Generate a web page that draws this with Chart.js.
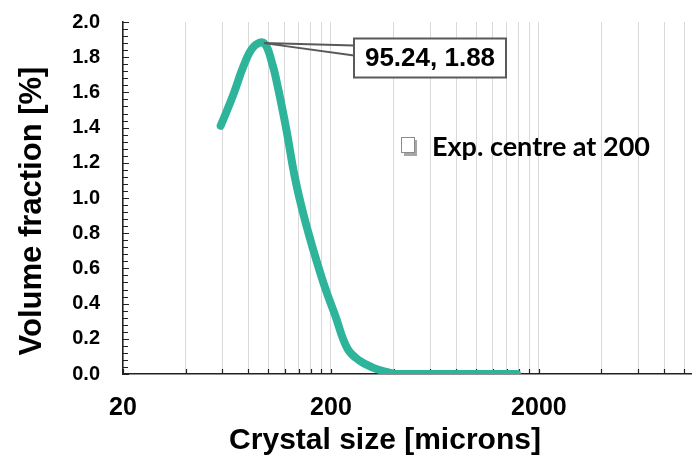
<!DOCTYPE html>
<html>
<head>
<meta charset="utf-8">
<script src="https://cdn.jsdelivr.net/npm/chart.js@4"></script>
<style>
html, body { margin: 0; padding: 0; background: #fff; }
#wrap { position: relative; width: 692px; height: 462px; }
</style>
</head>
<body>
<div id="wrap"><canvas id="psdChart" width="692" height="462"></canvas></div>
<script>
// crystal size [microns] and volume fraction [%]
var sizes   = [59, 68, 76, 85, 95.24, 104, 112, 122, 134, 148, 165, 185, 210, 240, 275, 320, 370, 410, 500, 650, 850, 1100, 1400, 1570];
var volFrac = [1.41, 1.59, 1.75, 1.86, 1.88, 1.77, 1.61, 1.39, 1.12, 0.90, 0.70, 0.51, 0.33, 0.145, 0.075, 0.035, 0.012, 0, 0, 0, 0, 0, 0, 0];
var seriesLabel = 'Exp. centre at 200';
var peak = { x: 95.24, y: 1.88 };

// x gridlines / tick marks (log axis, base 20) and the ones that get a label
var xGridTicks = [20, 40, 60, 80, 100, 120, 140, 160, 180, 200, 400, 600, 800, 1000, 1200, 1400, 1600, 1800, 2000, 4000, 6000, 8000, 10000];
var xTickLabels = [20, 200, 2000];

var lineColor = '#2EB49A';
var boldArial = 'bold {s}px "Liberation Sans", Arial, sans-serif';
function f(s) { return boldArial.replace('{s}', s); }

var points = sizes.map(function (s, i) { return { x: s, y: volFrac[i] }; });

var excelDecor = {
  id: 'excelDecor',
  beforeDatasetsDraw: function (chart) {
    var ctx = chart.ctx, xs = chart.scales.x, ys = chart.scales.y, a = chart.chartArea;
    ctx.save();
    ctx.strokeStyle = '#222';
    ctx.lineWidth = 1.2;
    ctx.beginPath();
    xGridTicks.forEach(function (v) {
      var px = Math.round(xs.getPixelForValue(v)) + 0.5;
      ctx.moveTo(px, a.bottom);
      ctx.lineTo(px, a.bottom - 5);
    });
    for (var k = 0; k <= 50; k++) {
      var py = Math.round(ys.getPixelForValue(k * 0.04)) + 0.5;
      var major = k % 5 === 0;
      ctx.moveTo(a.left - (major ? 1 : 0), py);
      ctx.lineTo(a.left + (major ? 6 : 5), py);
    }
    ctx.stroke();
    ctx.restore();
  },
  afterDatasetsDraw: function (chart) {
    var ctx = chart.ctx, xs = chart.scales.x, ys = chart.scales.y;
    ctx.save();
    // axis titles
    ctx.fillStyle = '#000';
    ctx.font = f(30);
    ctx.textAlign = 'center';
    ctx.textBaseline = 'middle';
    ctx.fillText('Crystal size [microns]', 385, 441);
    ctx.translate(32, 211);
    ctx.rotate(-Math.PI / 2);
    ctx.font = f(31);
    ctx.fillText('Volume fraction [%]', 0, 0);
    ctx.restore();

    // data callout on the peak
    var px = xs.getPixelForValue(peak.x), py = ys.getPixelForValue(peak.y);
    var bx = 354, by = 38.5, bw = 152, bh = 39;
    ctx.save();
    ctx.strokeStyle = '#595959';
    ctx.lineWidth = 2;
    ctx.beginPath();
    ctx.moveTo(px, py); ctx.lineTo(bx, by + 7);
    ctx.moveTo(px, py); ctx.lineTo(bx, by + 17);
    ctx.stroke();
    ctx.fillStyle = '#fff';
    ctx.fillRect(bx, by, bw, bh);
    ctx.strokeRect(bx, by, bw, bh);
    ctx.fillStyle = '#000';
    ctx.font = f(26);
    ctx.textAlign = 'center';
    ctx.textBaseline = 'middle';
    ctx.fillText(peak.x.toFixed(2) + ', ' + peak.y.toFixed(2), bx + bw / 2, by + bh / 2 + 1);

    // legend
    ctx.fillStyle = '#a6a6a6';
    ctx.fillRect(404, 140, 13, 16);
    ctx.fillStyle = '#fff';
    ctx.strokeStyle = '#8c8c8c';
    ctx.lineWidth = 1;
    ctx.fillRect(401.5, 137.5, 13, 15);
    ctx.strokeRect(401.5, 137.5, 13, 15);
    ctx.fillStyle = '#000';
    ctx.font = 'bold 27px Lato, "Open Sans", sans-serif';
    ctx.textAlign = 'left';
    ctx.textBaseline = 'middle';
    ctx.fillText(chart.data.datasets[0].label, 432, 147);
    ctx.restore();
  }
};

var ctx = document.getElementById('psdChart').getContext('2d');
var psdChart = new Chart(ctx, {
  type: 'line',
  data: {
    datasets: [{
      label: seriesLabel,
      data: points,
      borderColor: lineColor,
      backgroundColor: lineColor,
      borderWidth: 8,
      borderCapStyle: 'round',
      borderJoinStyle: 'round',
      pointRadius: 0,
      tension: 0.4,
      fill: false
    }]
  },
  options: {
    responsive: false,
    animation: false,
    devicePixelRatio: 1,
    layout: { autoPadding: false, padding: { top: 22, right: 0, left: 0, bottom: 0 } },
    plugins: {
      legend: { display: false },
      title: { display: false },
      tooltip: { enabled: false }
    },
    scales: {
      x: {
        type: 'logarithmic',
        min: 20,
        max: 10900,
        afterBuildTicks: function (scale) {
          scale.ticks = xGridTicks.map(function (v) { return { value: v }; });
        },
        afterFit: function (scale) {
          scale.height = 88;
          scale.paddingLeft = 0;
          scale.paddingRight = 0;
        },
        ticks: {
          autoSkip: false,
          maxRotation: 0,
          padding: 19,
          color: '#000',
          font: { family: '"Liberation Sans", Arial, sans-serif', size: 25, weight: 'bold' },
          callback: function (v) { return xTickLabels.indexOf(v) >= 0 ? String(v) : ''; }
        },
        grid: { color: '#d9d9d9', lineWidth: 1, drawTicks: false, tickLength: 0 },
        border: { color: '#222', width: 1.5 }
      },
      y: {
        min: 0,
        max: 2,
        afterFit: function (scale) {
          scale.width = 123;
          scale.paddingTop = 0;
          scale.paddingBottom = 0;
        },
        ticks: {
          stepSize: 0.2,
          padding: 23,
          color: '#000',
          font: { family: '"Liberation Sans", Arial, sans-serif', size: 20, weight: 'bold' },
          callback: function (v) { return Number(v).toFixed(1); }
        },
        grid: { display: false, drawTicks: false, tickLength: 0 },
        border: { color: '#222', width: 1.5 }
      }
    }
  },
  plugins: [excelDecor]
});
</script>
</body>
</html>
